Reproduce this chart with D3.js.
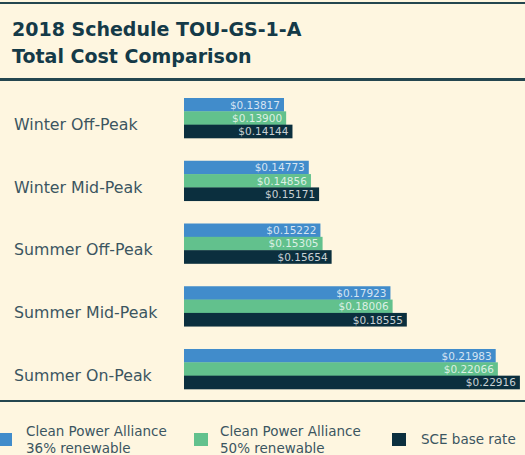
<!DOCTYPE html>
<html>
<head>
<meta charset="utf-8">
<script src="https://cdn.jsdelivr.net/npm/d3@7"></script>
<style>
  body { margin: 0; background: #fef6e0; }
  svg { display: block; font-family: "DejaVu Sans", sans-serif; }
</style>
</head>
<body>
<div class="chart"></div>
<script>
// periods and rates ($/kWh)
const periods = ['Winter Off-Peak', 'Winter Mid-Peak', 'Summer Off-Peak', 'Summer Mid-Peak', 'Summer On-Peak']
const seriesNames = ['cpa36', 'cpa50', 'sce']
const cpa36 = [0.13817, 0.14773, 0.15222, 0.17923, 0.21983]
const cpa50 = [0.13900, 0.14856, 0.15305, 0.18006, 0.22066]
const sce = [0.14144, 0.15171, 0.15654, 0.18555, 0.22916]
const legendLabels = [['Clean Power Alliance', '36% renewable'], ['Clean Power Alliance', '50% renewable'], ['SCE base rate']]
const colors = ['#418ccb', '#62c18d', '#0b2f3e']

const width = 525
const height = 455

const data = periods.map((p, i) => ({ period: p, values: [cpa36[i], cpa50[i], sce[i]] }))

const svg = d3.select('.chart')
  .append('svg')
  .attr('width', width)
  .attr('height', height)

svg.append('rect').attr('width', width).attr('height', height).attr('fill', '#fef6e0')

// rules
svg.append('rect').attr('x', 0).attr('y', 2).attr('width', width).attr('height', 2).attr('fill', '#24464f')
svg.append('rect').attr('x', 0).attr('y', 78).attr('width', width).attr('height', 3).attr('fill', '#24464f')
svg.append('rect').attr('x', 0).attr('y', 400).attr('width', width).attr('height', 2).attr('fill', '#24464f')

// title
svg.append('text').attr('x', 12).attr('y', 36)
  .attr('font-size', 19).attr('font-weight', 'bold').attr('fill', '#143a48')
  .text('2018 Schedule TOU-GS-1-A')
svg.append('text').attr('x', 12).attr('y', 63)
  .attr('font-size', 19).attr('font-weight', 'bold').attr('fill', '#143a48')
  .text('Total Cost Comparison')

const y = d3.scaleBand()
  .domain(periods)
  .range([98, 389])
  .paddingInner(0.3625)
  .paddingOuter(0)

const y1 = d3.scaleBand()
  .domain(seriesNames)
  .range([0, y.bandwidth()])

const x = d3.scaleLinear()
  .domain([0.0996, 0.2292])
  .range([184, 520])

const groups = svg.selectAll('.group')
  .data(data)
  .enter()
  .append('g')
  .attr('class', 'group')
  .attr('transform', d => 'translate(0,' + y(d.period) + ')')

groups.append('text')
  .attr('x', 14)
  .attr('y', 32)
  .attr('font-size', 15.8)
  .attr('fill', '#3b5560')
  .text(d => d.period)

const bars = groups.selectAll('.bar')
  .data(d => d.values.map((v, i) => ({ key: seriesNames[i], v: v, i: i })))
  .enter()

bars.append('rect')
  .attr('x', x.range()[0])
  .attr('y', d => y1(d.key))
  .attr('width', d => x(d.v) - x.range()[0])
  .attr('height', y1.bandwidth() + 0.3)
  .attr('fill', d => colors[d.i])

bars.append('text')
  .attr('x', d => x(d.v) - 4)
  .attr('y', d => y1(d.key) + y1.bandwidth() / 2 + 4)
  .attr('text-anchor', 'end')
  .attr('font-size', 10.5)
  .attr('fill', '#ffffff')
  .attr('fill-opacity', 0.78)
  .text(d => '$' + d.v.toFixed(5))

// legend
const legendX = [0, 194, 392]
const leg = svg.selectAll('.legend')
  .data(legendLabels)
  .enter()
  .append('g')
  .attr('transform', (d, i) => 'translate(' + legendX[i] + ',0)')

leg.append('rect')
  .attr('x', (d, i) => i == 0 ? -2 : 0)
  .attr('y', 433)
  .attr('width', 14)
  .attr('height', 13)
  .attr('fill', (d, i) => colors[i])

leg.each(function (d) {
  const g = d3.select(this)
  d.forEach((line, j) => {
    g.append('text')
      .attr('x', d.length == 1 ? 29 : 26)
      .attr('y', d.length == 1 ? 444 : 436 + j * 17)
      .attr('font-size', 13.5)
      .attr('fill', '#3b5560')
      .text(line)
  })
})
</script>
</body>
</html>
